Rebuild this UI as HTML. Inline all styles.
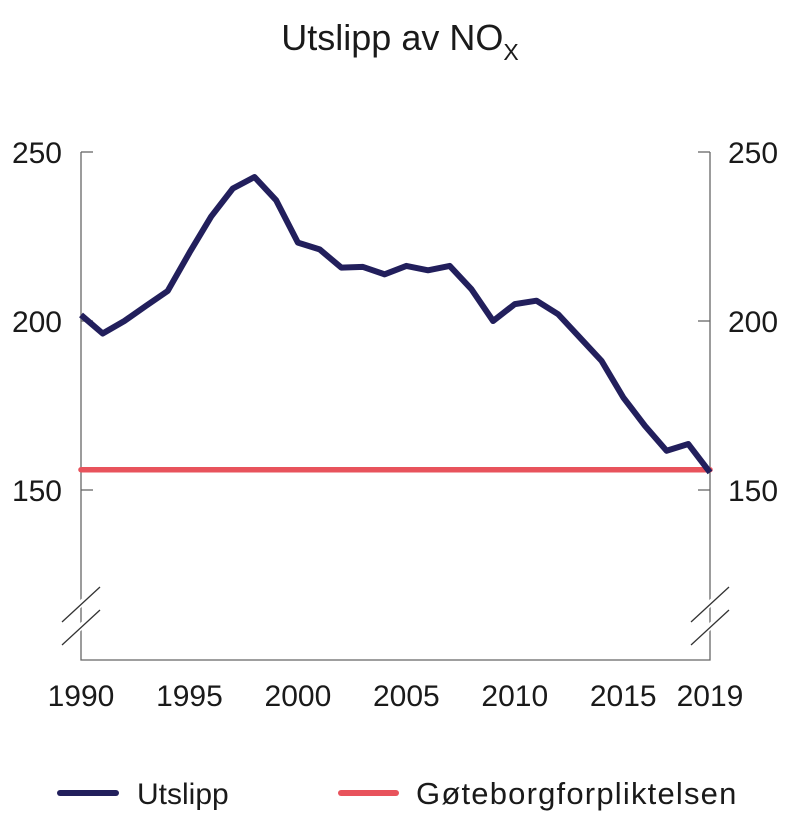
<!DOCTYPE html>
<html><head><meta charset="utf-8"><style>
html,body{margin:0;padding:0;background:#fff;}
svg{display:block;font-family:"Liberation Sans",sans-serif;}
</style></head><body>
<svg id="chart" width="800" height="826" viewBox="0 0 800 826">
  <text x="400" y="50" text-anchor="middle" font-size="36" fill="#1a1a1a">Utslipp av NO<tspan font-size="23" dy="10">X</tspan></text>
  <g id="axes"></g>
  <g id="series"></g>
  <g>
    <line x1="60" y1="793" x2="116" y2="793" stroke="#221f5c" stroke-width="6" stroke-linecap="round"/>
    <text x="137" y="804" font-size="30" fill="#1a1a1a">Utslipp</text>
    <line x1="341" y1="793" x2="396" y2="793" stroke="#e8535c" stroke-width="6" stroke-linecap="round"/>
    <text x="416" y="804" font-size="31" letter-spacing="1.2" fill="#1a1a1a">Gøteborgforpliktelsen</text>
  </g>
</svg>
<script>
const years = [1990,1991,1992,1993,1994,1995,1996,1997,1998,1999,2000,2001,2002,2003,2004,2005,2006,2007,2008,2009,2010,2011,2012,2013,2014,2015,2016,2017,2018,2019];
const utslipp = [201.8,196.3,200.0,204.5,208.9,220.2,230.9,239.2,242.6,235.7,223.2,221.2,215.8,216.0,213.8,216.3,215.0,216.3,209.4,200.0,205.0,206.0,202.0,195.1,188.2,177.4,169.0,161.6,163.6,155.2];
const goteborg = [156,156];
const yTicks = [150,200,250];
const xTickLabels = [1990,1995,2000,2005,2010,2015,2019];

const NS = "http://www.w3.org/2000/svg";
const X0 = 81, X1 = 710, Y250 = 152, Y150 = 490, YBOT = 660;
function xs(yr){ return X0 + (yr - years[0]) * (X1 - X0) / (years[years.length-1] - years[0]); }
function ys(v){ return Y250 + (250 - v) * (Y150 - Y250) / 100; }
function mk(tag, attrs, parent){ const e = document.createElementNS(NS, tag); for (const k in attrs) e.setAttribute(k, attrs[k]); parent.appendChild(e); return e; }

const axes = document.getElementById('axes');
const axisStyle = {stroke:"#666", "stroke-width":"1.3", fill:"none"};
let l = mk('polyline', Object.assign({points:`${X0},${Y250} ${X0},${YBOT} ${X1},${YBOT} ${X1},${Y250}`}, axisStyle), axes);


yTicks.forEach(v => {
  const y = ys(v);
  let t1 = mk('line', Object.assign({x1:X0, y1:y, x2:X0+12, y2:y}, axisStyle), axes);
  
  
  let t2 = mk('line', Object.assign({x1:X1-12, y1:y, x2:X1, y2:y}, axisStyle), axes);
  
  
  let a = mk('text', {x:62, y:y+11, "text-anchor":"end", "font-size":"30", fill:"#1a1a1a"}, axes);
  a.textContent = v;
  
  
  let b = mk('text', {x:728, y:y+11, "font-size":"30", fill:"#1a1a1a"}, axes);
  b.textContent = v;
  
  
});
xTickLabels.forEach(yr => {
  let t = mk('text', {x:xs(yr), y:706, "text-anchor":"middle", "font-size":"30", fill:"#1a1a1a"}, axes);
  t.textContent = yr;
  
  
});
// axis break marks
[X0, X1].forEach(x => {
  [[-19,624,19,587],[-19,647,19,610]].forEach(([dx1,y1,dx2,y2]) => {
    let w = mk('line', {x1:x+dx1, y1:y1-2, x2:x+dx2, y2:y2-2, stroke:"#fff", "stroke-width":"6"}, axes);
    
    
  });
  [[-19,622,19,587],[-19,645,19,610]].forEach(([dx1,y1,dx2,y2]) => {
    let s = mk('line', {x1:x+dx1, y1:y1, x2:x+dx2, y2:y2, stroke:"#333", "stroke-width":"1.3"}, axes);
    
    
  });
});

const series = document.getElementById('series');
let red = mk('line', {x1:xs(years[0]), y1:ys(goteborg[0]), x2:xs(years[years.length-1]), y2:ys(goteborg[1]), stroke:"#e8535c", "stroke-width":"5.5", "stroke-linecap":"round"}, series);


let pl = mk('polyline', {points: years.map((yr,i)=>`${xs(yr)},${ys(utslipp[i])}`).join(' '), fill:"none", stroke:"#221f5c", "stroke-width":"6", "stroke-linejoin":"round"}, series);


</script>
</body></html>
